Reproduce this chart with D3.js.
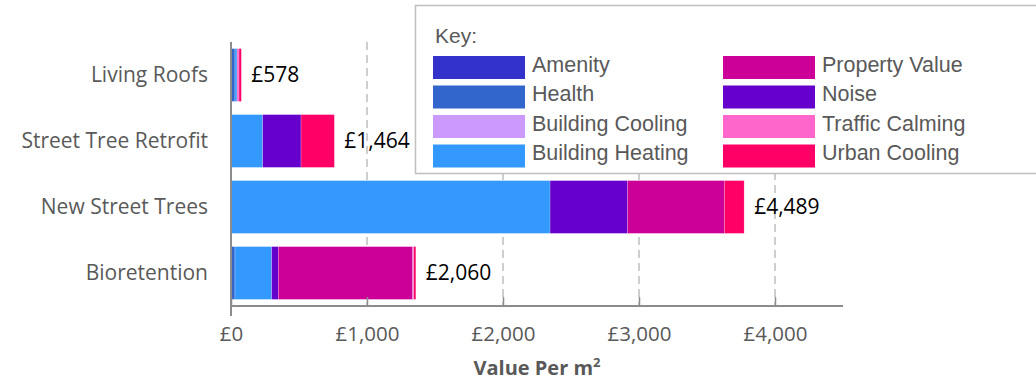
<!DOCTYPE html>
<html>
<head>
<meta charset="utf-8">
<script src="https://cdn.jsdelivr.net/npm/d3@7"></script>
<style>
  html, body { margin: 0; padding: 0; background: #fff; }
  svg { display: block; }
</style>
</head>
<body>
<svg id="chart" width="1036" height="380"></svg>
<script>
// Benefit categories, in stacking order
const seriesNames = ["Amenity", "Health", "Building Cooling", "Building Heating",
                     "Noise", "Property Value", "Traffic Calming", "Urban Cooling"];
const seriesColors = ["#3333CC", "#3366CC", "#CC99FF", "#3399FF",
                      "#6600CC", "#CC0099", "#FF66CC", "#FF0066"];

// Interventions (top to bottom)
const categories = ["Living Roofs", "Street Tree Retrofit", "New Street Trees", "Bioretention"];

// Value per m² for each benefit (£), one array per category, in seriesNames order
const livingRoofs        = [0, 29, 0, 15, 0, 0, 15, 17];
const streetTreeRetrofit = [0, 0, 0, 233, 282, 0, 0, 245];
const newStreetTrees     = [0, 0, 0, 2346, 569, 713, 0, 145];
const bioretention       = [0, 29, 0, 270, 49, 988, 8, 15];

// Total labels shown at the end of each bar
const totalLabels = ["£578", "£1,464", "£4,489", "£2,060"];

// Axis ticks
const xTicks = [0, 1000, 2000, 3000, 4000];
const xMax = 4500;

// Legend layout: left column then right column
const legendColumns = [
  ["Amenity", "Health", "Building Cooling", "Building Heating"],
  ["Property Value", "Noise", "Traffic Calming", "Urban Cooling"]
];

const valueRows = [livingRoofs, streetTreeRetrofit, newStreetTrees, bioretention];
const table = categories.map((c, i) => {
  const row = { category: c, label: totalLabels[i] };
  seriesNames.forEach((s, j) => row[s] = valueRows[i][j]);
  return row;
});

const svg = d3.select("#chart");
const plot = { left: 231, right: 843, top: 42, bottom: 306 };

const x = d3.scaleLinear().domain([0, xMax]).range([plot.left, plot.right]);
const y = d3.scaleBand().domain(categories).range([plot.top, plot.bottom])
  .paddingInner(0.2).paddingOuter(0.1);
const color = d3.scaleOrdinal().domain(seriesNames).range(seriesColors);

const axisGrey = "#8C8C8C";
const textGrey = "#595959";
const catFont = "'Open Sans', Lato, sans-serif";
const keyFont = "'Liberation Sans', Arial, sans-serif";

// Dashed vertical gridlines
svg.append("g").selectAll("line")
  .data(xTicks.filter(d => d > 0))
  .join("line")
  .attr("x1", d => x(d)).attr("x2", d => x(d))
  .attr("y1", plot.top).attr("y2", plot.bottom)
  .attr("stroke", "#BFBFBF").attr("stroke-width", 1.5)
  .attr("stroke-dasharray", "8,5");

// Stacked bars
const stack = d3.stack().keys(seriesNames);
const layers = stack(table);
svg.append("g").selectAll("g")
  .data(layers)
  .join("g")
  .attr("fill", d => color(d.key))
  .selectAll("rect")
  .data(d => d.filter(p => p[1] - p[0] > 0))
  .join("rect")
  .attr("x", p => x(p[0]))
  .attr("width", p => x(p[1]) - x(p[0]))
  .attr("y", p => y(p.data.category))
  .attr("height", y.bandwidth())
  .attr("stroke", "#ffffff").attr("stroke-opacity", 0.35).attr("stroke-width", 0.6);

// Total labels
svg.append("g").selectAll("text")
  .data(table)
  .join("text")
  .attr("x", d => x(d3.sum(seriesNames, s => d[s])) + 10)
  .attr("y", d => y(d.category) + y.bandwidth() / 2)
  .attr("dy", "0.35em")
  .attr("font-family", catFont)
  .attr("font-size", 21)
  .attr("fill", "#000")
  .text(d => d.label);

// X axis
const xAxis = svg.append("g")
  .attr("transform", `translate(0,${plot.bottom})`)
  .call(d3.axisBottom(x).tickValues(xTicks).tickSize(-9).tickPadding(20)
    .tickFormat(d => "£" + d3.format(",")(d)));
xAxis.select(".domain").attr("stroke", axisGrey).attr("stroke-width", 2)
  .attr("d", `M${plot.left},0H${plot.right}`);
xAxis.selectAll(".tick line").attr("stroke", axisGrey).attr("stroke-width", 1.5);
xAxis.selectAll(".tick text")
  .attr("font-family", catFont).attr("font-size", 20.5).attr("fill", textGrey);

// Y axis
const yAxis = svg.append("g")
  .attr("transform", `translate(${plot.left},0)`)
  .call(d3.axisLeft(y).tickSize(0).tickPadding(23));
yAxis.select(".domain").attr("stroke", axisGrey).attr("stroke-width", 2)
  .attr("d", `M0,${plot.top}V${plot.bottom + 10}`);
yAxis.selectAll(".tick text")
  .attr("font-family", catFont).attr("font-size", 21).attr("fill", textGrey);

// X axis title
const title = svg.append("text")
  .attr("x", (plot.left + plot.right) / 2)
  .attr("y", 375)
  .attr("text-anchor", "middle")
  .attr("font-family", catFont)
  .attr("font-size", 20)
  .attr("font-weight", "bold")
  .attr("fill", textGrey);
title.append("tspan").text("Value Per m");
title.append("tspan").text("2").attr("font-size", 13).attr("dy", -8);

// Legend
const legend = svg.append("g");
legend.append("rect")
  .attr("x", 415.5).attr("y", 5.5).attr("width", 640).attr("height", 168)
  .attr("fill", "#fff").attr("stroke", "#BFBFBF").attr("stroke-width", 1.5);
legend.append("text")
  .attr("x", 435).attr("y", 43)
  .attr("font-family", keyFont)
  .attr("font-size", 21).attr("fill", textGrey)
  .text("Key:");

const colX = [433, 723];
legendColumns.forEach((col, ci) => {
  const g = legend.append("g").selectAll("g")
    .data(col)
    .join("g")
    .attr("transform", (d, i) => `translate(${colX[ci]},${56 + i * 29.5})`);
  g.append("rect")
    .attr("width", 92).attr("height", 23)
    .attr("fill", d => color(d));
  g.append("text")
    .attr("x", 99).attr("y", 8)
    .attr("dy", "0.35em")
    .attr("font-family", keyFont)
    .attr("font-size", 21.5).attr("fill", textGrey)
    .text(d => d);
});
</script>
</body>
</html>
